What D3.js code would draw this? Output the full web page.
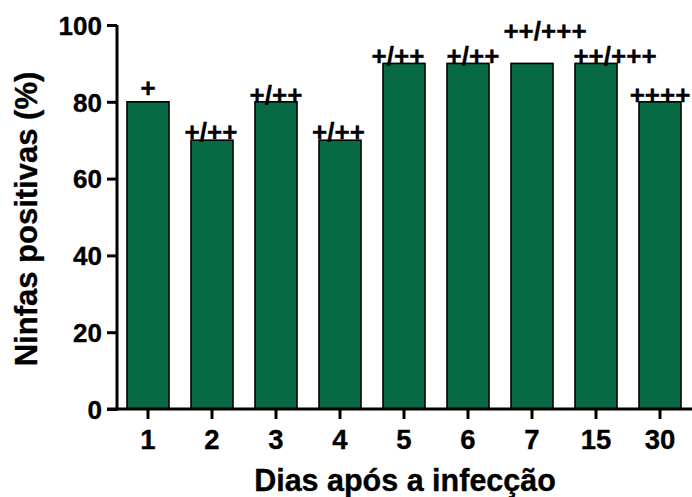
<!DOCTYPE html>
<html>
<head>
<meta charset="utf-8">
<script src="https://cdn.jsdelivr.net/npm/d3@7"></script>
<style>
  body { margin: 0; background: #fff; }
  svg { display: block; }
  text { font-family: "Liberation Sans", Arial, sans-serif; font-weight: bold; fill: #000; stroke: #000; stroke-width: 0.35px; }
</style>
</head>
<body>
<svg id="chart" width="692" height="497"></svg>
<script>
const days = ["1", "2", "3", "4", "5", "6", "7", "15", "30"];
const positives = [80, 70, 80, 70, 90, 90, 90, 90, 80];
const intensity = ["+", "+/++", "+/++", "+/++", "+/++", "+/++", "++/+++", "++/+++", "++++"];
const yTicks = [0, 20, 40, 60, 80, 100];

const svg = d3.select("#chart");

const x = d3.scaleBand()
  .domain(days)
  .range([116, 692])
  .paddingInner(0.344)
  .paddingOuter(0.172);

const y = d3.scaleLinear().domain([0, 100]).range([409, 25]);

// bars
svg.append("g")
  .selectAll("rect")
  .data(days)
  .join("rect")
  .attr("x", d => x(d))
  .attr("y", (d, i) => y(positives[i]))
  .attr("width", x.bandwidth())
  .attr("height", (d, i) => y(0) - y(positives[i]))
  .attr("fill", "#076a45")
  .attr("stroke", "#000")
  .attr("stroke-width", 1.6);

// hand-placed annotation nudges (px), as in the original figure
const nudgeX = [0, -1, 0, -1.5, -6, 5, 13, 19, 0];
const nudgeY = [-6, 0, 1, 0, 1, 1, -24, 1, 1];

svg.append("g")
  .selectAll("text")
  .data(days)
  .join("text")
  .attr("x", (d, i) => x(d) + x.bandwidth() / 2 + nudgeX[i])
  .attr("y", (d, i) => y(positives[i]) + 1 + nudgeY[i])
  .attr("text-anchor", "middle")
  .attr("font-size", 26)
  .text((d, i) => intensity[i]);

// y axis
const yAxis = svg.append("g")
  .attr("transform", "translate(117,0)")
  .call(d3.axisLeft(y).tickValues(yTicks).tickSize(10).tickPadding(5));
yAxis.select(".domain").attr("stroke-width", 3).attr("d", `M0,${y(100)}V${y(0) + 1.5}`);
yAxis.selectAll(".tick line").attr("stroke-width", 3);
yAxis.selectAll(".tick text").attr("font-size", 26).attr("font-family", null).attr("dy", "0.36em");

// x axis
const xAxis = svg.append("g")
  .attr("transform", "translate(0,409)")
  .call(d3.axisBottom(x).tickSize(10).tickPadding(10));
xAxis.select(".domain").attr("stroke-width", 3).attr("d", "M107,0H692");
xAxis.selectAll(".tick line").attr("stroke-width", 3);
xAxis.selectAll(".tick text").attr("font-size", 27.5).attr("font-family", null);

// axis titles
svg.append("text")
  .attr("x", 405)
  .attr("y", 491)
  .attr("text-anchor", "middle")
  .attr("font-size", 30.5)
  .text("Dias após a infecção");

svg.append("text")
  .attr("transform", "translate(37,219) rotate(-90)")
  .attr("text-anchor", "middle")
  .attr("font-size", 31)
  .text("Ninfas positivas (%)");
</script>
</body>
</html>
